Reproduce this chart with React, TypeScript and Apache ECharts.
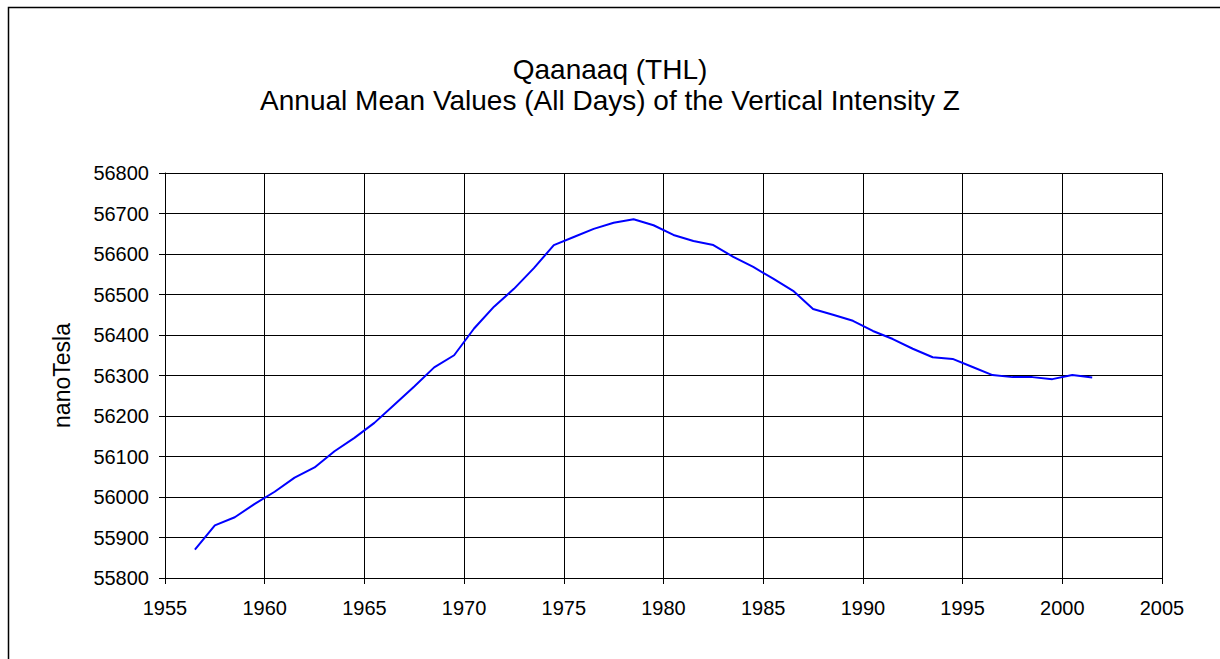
import React, { useEffect, useRef } from "react";
import * as echarts from "echarts";

const years: number[] = [
  1956.5, 1957.5, 1958.5, 1959.5, 1960.5, 1961.5, 1962.5, 1963.5, 1964.5, 1965.5,
  1966.5, 1967.5, 1968.5, 1969.5, 1970.5, 1971.5, 1972.5, 1973.5, 1974.5, 1975.5,
  1976.5, 1977.5, 1978.5, 1979.5, 1980.5, 1981.5, 1982.5, 1983.5, 1984.5, 1985.5,
  1986.5, 1987.5, 1988.5, 1989.5, 1990.5, 1991.5, 1992.5, 1993.5, 1994.5, 1995.5,
  1996.5, 1997.5, 1998.5, 1999.5, 2000.5, 2001.5,
];

const zValues: number[] = [
  55870, 55930, 55950, 55983, 56013, 56048, 56073, 56113, 56146, 56183,
  56228, 56273, 56320, 56350, 56416, 56470, 56514, 56565, 56622, 56642,
  56662, 56677, 56686, 56671, 56647, 56632, 56622, 56593, 56568, 56539,
  56509, 56464, 56450, 56435, 56410, 56390, 56366, 56345, 56341, 56321,
  56301, 56296, 56296, 56291, 56301, 56295,
];

const titleLines: string[] = [
  "Qaanaaq (THL)",
  "Annual Mean Values (All Days) of the Vertical Intensity Z",
];
const yAxisName = "nanoTesla";

const FONT = "'Liberation Sans', Arial, sans-serif";

export default function App() {
  const ref = useRef<HTMLDivElement>(null);
  useEffect(() => {
    if (!ref.current) return;
    const chart = echarts.init(ref.current, null, { renderer: "svg" });
    chart.setOption({
      animation: false,
      backgroundColor: "#ffffff",
      textStyle: { fontFamily: FONT },
      title: {
        text: titleLines.join("\n"),
        left: "center",
        top: 49,
        textStyle: {
          fontFamily: FONT,
          fontSize: 28,
          fontWeight: "normal",
          color: "#000",
          lineHeight: 31,
        },
      },
      graphic: [
        {
          type: "rect",
          shape: { x: 8.5, y: 7.5, width: 1400, height: 1000 },
          style: { fill: "none", stroke: "#000", lineWidth: 1.5 },
          silent: true,
        },
      ],
      grid: { left: 165, top: 173, right: 58, bottom: 81 },
      xAxis: {
        type: "value",
        min: 1955,
        max: 2005,
        interval: 5,
        axisLine: { show: true, lineStyle: { color: "#000", width: 1 } },
        axisTick: { show: true, length: 6, lineStyle: { color: "#000" } },
        axisLabel: {
          color: "#000",
          fontSize: 20,
          fontFamily: FONT,
          margin: 20,
          formatter: (v: number) => String(v),
        },
        splitLine: { show: true, lineStyle: { color: "#000", width: 1 } },
      },
      yAxis: {
        type: "value",
        min: 55800,
        max: 56800,
        interval: 100,
        name: yAxisName,
        nameLocation: "middle",
        nameGap: 92,
        nameTextStyle: { color: "#000", fontSize: 23, fontFamily: FONT },
        axisLine: { show: true, lineStyle: { color: "#000", width: 1 } },
        axisTick: { show: true, length: 6, lineStyle: { color: "#000" } },
        axisLabel: {
          color: "#000",
          fontSize: 20,
          fontFamily: FONT,
          margin: 16,
          formatter: (v: number) => String(v),
        },
        splitLine: { show: true, lineStyle: { color: "#000", width: 1 } },
      },
      series: [
        {
          type: "line",
          data: years.map((y, i) => [y, zValues[i]]),
          showSymbol: false,
          symbol: "none",
          lineStyle: { color: "#0000ff", width: 2 },
          itemStyle: { color: "#0000ff" },
        },
      ],
    });
    return () => chart.dispose();
  }, []);
  return (
    <div
      ref={ref}
      style={{ position: "fixed", left: 0, top: 0, width: 1220, height: 659 }}
    />
  );
}
